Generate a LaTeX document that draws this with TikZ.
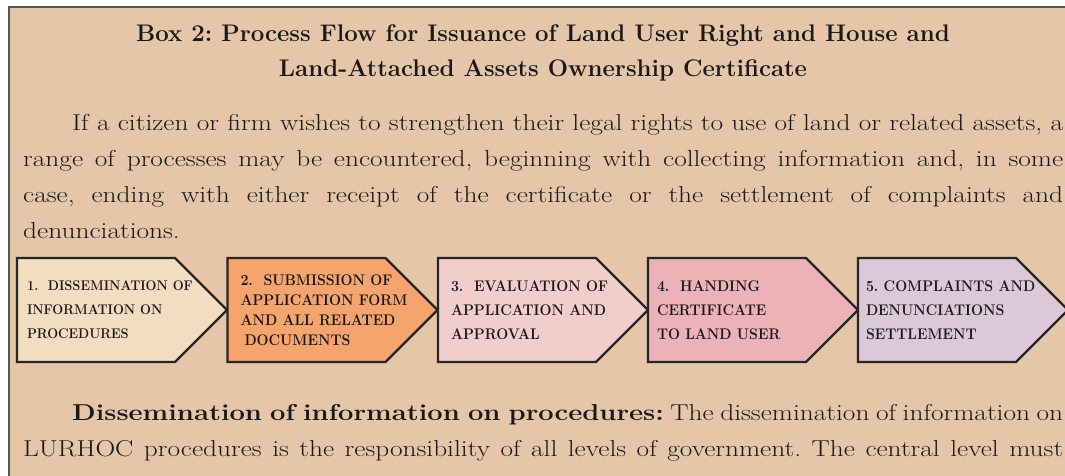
\documentclass[tikz,border=0pt]{standalone}
\usepackage{fontspec}
\setmainfont{Latin Modern Roman}[FakeStretch=1.19]
\newfontfamily\headfont{Latin Modern Roman}
\newfontfamily\stepfont{Latin Modern Roman}[FakeStretch=0.92]
\usetikzlibrary{shapes.symbols,positioning}

\definecolor{boxbg}{HTML}{E5C6A8}
\definecolor{framegray}{HTML}{555555}
\definecolor{stepA}{HTML}{F3DCC0}
\definecolor{stepB}{HTML}{F5A46E}
\definecolor{stepC}{HTML}{F3CDCB}
\definecolor{stepD}{HTML}{EDB1B8}
\definecolor{stepE}{HTML}{DCC8D6}

\begin{document}
\frenchspacing
\begin{tikzpicture}[x=1pt,y=-1pt]
\tikzset{stepbox/.style = {shape=signal, signal to=east, signal pointer angle=90, draw=black!85, line width=2.4pt, minimum width=210pt, minimum height=104pt, inner sep=0pt}}
\tikzset{steptext/.style = {anchor=west, align=left, inner sep=0pt, text=black!90, font=\stepfont\bfseries\fontsize{15.4}{24}\selectfont}}
\tikzset{paratext/.style = {anchor=north west, inner sep=0pt, text width=1040pt, align=justify, text=black!90, font=\fontsize{23}{36}\selectfont}}

\useasboundingbox (0,0) rectangle (1065,476);
\fill[white] (0,0) rectangle (1065,476);
\fill[boxbg] (9,7) rectangle (1065,476);
\draw[framegray, line width=1.3pt] (9,476) -- (9,7) -- (1065,7);

% heading
\node[align=center, inner sep=0pt, text=black!90, font=\headfont\bfseries\fontsize{24}{35}\selectfont] (title) at (543,53)
  {Box 2: Process Flow for Issuance of Land User Right and House and\\Land-Attached Assets Ownership Certificate};

\node[paratext] (intro) at (23,114) {\hspace*{49pt}If a citizen or firm wishes to strengthen their legal rights to use of land or related assets, a\linebreak
range of processes may be encountered, beginning with collecting information and, in some\linebreak
case, ending with either receipt of the certificate or the settlement of complaints and\linebreak
denunciations.};

% the five steps
\foreach \i/\pos/\col in {1/96/stepA, 2/306.5/stepB, 3/517/stepC, 4/727/stepD, 5/937/stepE}
\node[stepbox, fill=\col] (step\i) at (\pos,310) {};

\node[steptext, font=\stepfont\bfseries\fontsize{14}{24}\selectfont] (label1) at ([xshift=11pt]step1.west) {1.~ DISSEMINATION OF\\INFORMATION ON\\PROCEDURES};
\node[steptext, font=\stepfont\bfseries\fontsize{15.4}{20}\selectfont] (label2) at ([xshift=14pt]step2.west) {2.~ SUBMISSION OF\\APPLICATION FORM\\AND ALL RELATED\\\hspace*{4pt}DOCUMENTS};
\node[steptext] (label3) at ([xshift=14pt]step3.west) {3.~ EVALUATION OF\\APPLICATION AND\\APPROVAL};
\node[steptext] (label4) at ([xshift=10pt]step4.west) {4.~ HANDING\\CERTIFICATE\\TO LAND USER};
\node[steptext] (label5) at ([xshift=9pt]step5.west) {5. COMPLAINTS AND\\DENUNCIATIONS\\SETTLEMENT};

\node[paratext] (dissem) at (23,404) {\hspace*{49pt}\textbf{Dissemination of information on procedures:} The dissemination of information on\linebreak
LURHOC procedures is the responsibility of all levels of government. The central level must\linebreak};
\end{tikzpicture}
\end{document}
